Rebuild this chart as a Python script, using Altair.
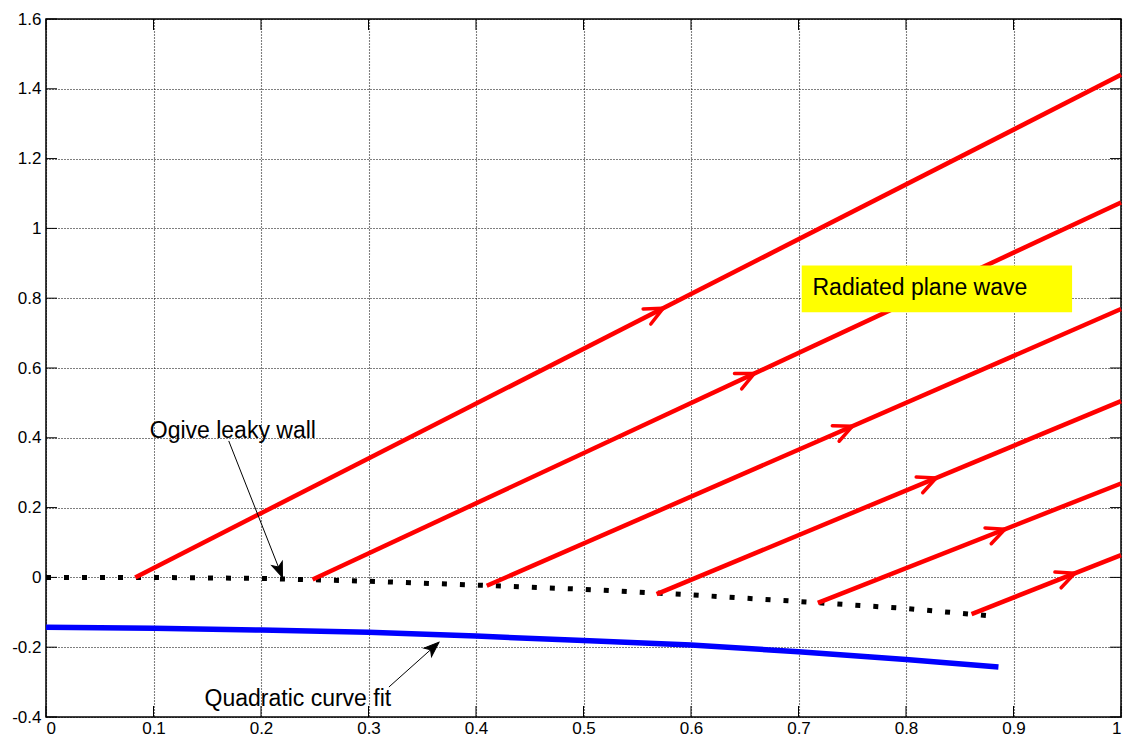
import math
import altair as alt
import pandas as pd

# ---------------- data ----------------
x_ticks = [0, 0.1, 0.2, 0.3, 0.4, 0.5, 0.6, 0.7, 0.8, 0.9, 1]
y_ticks = [-0.4, -0.2, 0, 0.2, 0.4, 0.6, 0.8, 1, 1.2, 1.4, 1.6]

# radiated plane-wave rays (red)
wave_start_x = [0.083, 0.248, 0.410, 0.568, 0.718, 0.861]
wave_start_y = [0.0, -0.006, -0.024, -0.048, -0.073, -0.105]
wave_end_x = [1.0, 1.0, 1.0, 1.0, 1.0, 1.0]
wave_end_y = [1.44, 1.074, 0.769, 0.505, 0.269, 0.064]
wave_arrow_x = [0.574, 0.659, 0.750, 0.828, 0.892, 0.957]

# ogive leaky wall (black dotted)
ogive_x = [0, 0.1, 0.2, 0.3, 0.4, 0.5, 0.6, 0.7, 0.8, 0.877]
ogive_y = [0, 0.0, -0.003, -0.011, -0.022, -0.034, -0.050, -0.069, -0.089, -0.110]

# quadratic curve fit (blue)
quad_x = [0, 0.1, 0.2, 0.3, 0.4, 0.5, 0.6, 0.7, 0.8, 0.886]
quad_y = [-0.143, -0.146, -0.151, -0.157, -0.168, -0.181, -0.194, -0.213, -0.235, -0.257]

# annotations
ann_text = ["Ogive leaky wall", "Quadratic curve fit"]
ann_text_x = [0.0965, 0.1475]
ann_text_y = [0.42, -0.349]
ann_arrow_from_x = [0.170, 0.319]
ann_arrow_from_y = [0.391, -0.314]
ann_arrow_to_x = [0.220, 0.3655]
ann_arrow_to_y = [0.0, -0.186]

box_label = "Radiated plane wave"
box_x = [0.703, 0.9545]
box_y = [0.76, 0.894]
box_text_x = 0.713
box_text_y = 0.829

# ---------------- layout ----------------
W, H = 1075, 698
XMIN, XMAX, YMIN, YMAX = 0, 1, -0.4, 1.6
PX_X = W / (XMAX - XMIN)
PX_Y = H / (YMAX - YMIN)
FONT = "Liberation Sans"

xs = alt.Scale(domain=[XMIN, XMAX], nice=False, zero=False)
ys = alt.Scale(domain=[YMIN, YMAX], nice=False, zero=False)

# ---------------- tables ----------------
waves = []
arrows = []
for i in range(len(wave_start_x)):
    waves.append({"id": i, "x": wave_start_x[i], "y": wave_start_y[i]})
    waves.append({"id": i, "x": wave_end_x[i], "y": wave_end_y[i]})
    slope = (wave_end_y[i] - wave_start_y[i]) / (wave_end_x[i] - wave_start_x[i])
    ay = wave_start_y[i] + slope * (wave_arrow_x[i] - wave_start_x[i])
    ang = math.degrees(math.atan(slope * PX_Y / PX_X))
    arrows.append({"x": wave_arrow_x[i], "y": ay, "angle": (360 - ang) % 360})
waves_df = pd.DataFrame(waves)
arrows_df = pd.DataFrame(arrows)

ogive_df = pd.DataFrame({"x": ogive_x, "y": ogive_y})
quad_df = pd.DataFrame({"x": quad_x, "y": quad_y})

ann_rows = []
for i in range(len(ann_text)):
    dx = (ann_arrow_to_x[i] - ann_arrow_from_x[i]) * PX_X
    dy = -(ann_arrow_to_y[i] - ann_arrow_from_y[i]) * PX_Y
    ann_rows.append({
        "label": ann_text[i], "tx": ann_text_x[i], "ty": ann_text_y[i],
        "x": ann_arrow_from_x[i], "y": ann_arrow_from_y[i],
        "x2": ann_arrow_to_x[i], "y2": ann_arrow_to_y[i],
        "angle": math.degrees(math.atan2(dy, dx)) % 360,
    })
ann_df = pd.DataFrame(ann_rows)

box_df = pd.DataFrame([{"x": box_x[0], "x2": box_x[1], "y": box_y[0], "y2": box_y[1],
                        "tx": box_text_x, "ty": box_text_y, "label": box_label}])

TICK = 11
tick_b = pd.DataFrame({"x": x_ticks, "y": YMIN, "y2": YMIN + TICK / PX_Y})
tick_t = pd.DataFrame({"x": x_ticks, "y": YMAX, "y2": YMAX - TICK / PX_Y})
tick_l = pd.DataFrame({"y": y_ticks, "x": XMIN, "x2": XMIN + TICK / PX_X})
tick_r = pd.DataFrame({"y": y_ticks, "x": XMAX, "x2": XMAX - TICK / PX_X})

# ---------------- axes ----------------
x_axis = alt.Axis(values=x_ticks, labelExpr="'' + datum.value", labelPadding=3,
                  title=None)
y_axis = alt.Axis(values=y_ticks, labelExpr="'' + datum.value", labelPadding=5,
                  title=None)


def X(field="x"):
    return alt.X(f"{field}:Q", scale=xs, axis=x_axis)


def Y(field="y"):
    return alt.Y(f"{field}:Q", scale=ys, axis=y_axis)


# ---------------- layers ----------------
quad = alt.Chart(quad_df).mark_line(color="#0000ff", strokeWidth=5.5, strokeCap="butt").encode(
    x=X(), y=Y())

ogive = alt.Chart(ogive_df).mark_line(color="black", strokeWidth=5, strokeDash=[5, 13],
                                      strokeCap="butt").encode(x=X(), y=Y())

wave_lines = alt.Chart(waves_df).mark_line(color="#ff0000", strokeWidth=4.5).encode(
    x=X(), y=Y(), detail="id:N")

wave_heads = alt.Chart(arrows_df).mark_point(
    shape="M -1 -0.47 L 0 0 L -1 0.47", filled=False, stroke="#ff0000",
    strokeWidth=3.5, size=1300, opacity=1, strokeCap="round", strokeJoin="round",
).encode(x=X(), y=Y(), angle=alt.Angle("angle:Q", scale=None))

box = alt.Chart(box_df).mark_rect(fill="#ffff00").encode(
    x=X(), x2="x2:Q", y=Y(), y2="y2:Q")
box_text = alt.Chart(box_df).mark_text(align="left", baseline="middle", font=FONT,
                                       fontSize=23, color="black").encode(
    x=X("tx"), y=Y("ty"), text="label:N")

ann_lines = alt.Chart(ann_df).mark_rule(color="black", strokeWidth=1).encode(
    x=X(), x2="x2:Q", y=Y(), y2="y2:Q")
ann_heads = alt.Chart(ann_df).mark_point(
    shape="M 0 0 L -1 -0.38 L -0.75 0 L -1 0.38 Z", filled=True, fill="black",
    stroke="black", strokeWidth=1, size=900, opacity=1,
).encode(x=X("x2"), y=Y("y2"), angle=alt.Angle("angle:Q", scale=None))
ann_texts = alt.Chart(ann_df).mark_text(align="left", baseline="middle", font=FONT,
                                        fontSize=23, color="black").encode(
    x=X("tx"), y=Y("ty"), text="label:N")


def vtick(df):
    return alt.Chart(df).mark_rule(color="black", strokeWidth=1).encode(
        x=X(), y=Y(), y2="y2:Q")


def htick(df):
    return alt.Chart(df).mark_rule(color="black", strokeWidth=1).encode(
        y=Y(), x=X(), x2="x2:Q")


chart = alt.layer(
    quad, vtick(tick_b), vtick(tick_t), htick(tick_l), htick(tick_r),
    ogive, wave_lines, wave_heads, box, box_text, ann_lines, ann_heads, ann_texts,
).properties(
    width=W, height=H,
    background="white",
    autosize=alt.AutoSizeParams(type="none"),
    padding={"left": 38, "top": 11, "right": 2, "bottom": 21},
).configure_view(
    stroke="black", strokeWidth=1.5, fill="white"
).configure_axis(
    grid=True, ticks=False, tickSize=0, domain=False, labelFontSize=17, labelFont=FONT,
    labelColor="black", gridColor="black", gridDash=[1, 2], gridWidth=1.1,
    gridOpacity=1,
)

chart.save("out.html", embed_options={"renderer": "svg", "actions": False})
